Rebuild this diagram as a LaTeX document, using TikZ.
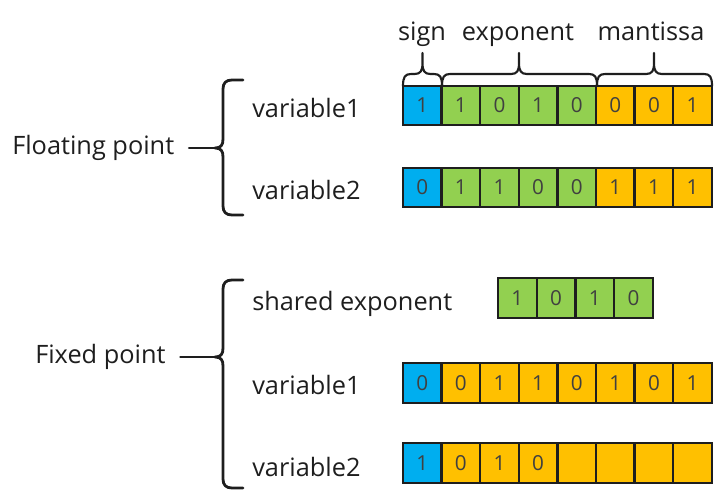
\documentclass[tikz,border=0pt]{standalone}
\usepackage{fontspec}
\setmainfont{Open Sans}
\usetikzlibrary{positioning}
\definecolor{signblue}{RGB}{0,174,239}
\definecolor{expgreen}{RGB}{146,208,80}
\definecolor{mantorange}{RGB}{255,192,0}
\definecolor{inkgray}{RGB}{30,30,30}

% curly brace above a field: left x, tip x, right x
\newcommand{\topbrace}[3]{%
  \draw[bracebar] (#1,86) .. controls (#1,77) and (#1+2,74) .. (#1+8,74) -- (#2-8,74)
    .. controls (#2-2,74) and (#2,71) .. (#2,63) -- (#2,53) -- (#2,63)
    .. controls (#2,71) and (#2+2,74) .. (#2+8,74) -- (#3-8,74)
    .. controls (#3-2,74) and (#3,77) .. (#3,86);}
% bracket on the left of a group: top y, tip y, bottom y
\newcommand{\sidebrace}[3]{%
  \draw[sidebar] (243,#1) -- (232,#1) .. controls (226,#1) and (223,#1+3) .. (223,#1+9)
    -- (223,#2-9) .. controls (223,#2-3) and (221,#2) .. (215,#2)
    .. controls (221,#2) and (223,#2+3) .. (223,#2+9) -- (223,#3-9)
    .. controls (223,#3-3) and (226,#3) .. (232,#3) -- (243,#3);}

\begin{document}
\begin{tikzpicture}[x=0.75pt,y=0.75pt,yscale=-1,xscale=1,
    cell/.style={draw=inkgray, line width=1.7pt, minimum width=28.95pt, minimum height=29.5pt,
      inner sep=0pt, text=black!75, font=\fontsize{15.5}{17}\selectfont},
    lbl/.style={anchor=west, inner sep=0pt, text=inkgray, font=\fontsize{19}{22}\selectfont},
    toplbl/.style={anchor=base, inner sep=0pt, text=inkgray, font=\fontsize{19}{22}\selectfont},
    bracebar/.style={draw=inkgray, line width=1.6pt, line join=round, line cap=round},
    sidebar/.style={bracebar, line width=2.1pt}]
        \useasboundingbox (0,0) rectangle (720,493);
        % Field names
        \node[toplbl] (sign) at (422,40) {sign};
        \node[toplbl] (expo) at (518,40) {exponent};
        \node[toplbl] (mant) at (651,40) {mantissa};
        \topbrace{403}{422.5}{442}
        \topbrace{442}{519}{597}
        \topbrace{597}{654}{712}
        % Floating point group
        \node[lbl] (flt) at (12,148) {Floating point};
        \node[lbl] (fltva) at (252,108) {variable1};
        \node[lbl] (fltvb) at (252,190) {variable2};
        \sidebrace{80}{148}{215}
        \coordinate (fltip) at (216,148);
        \draw[sidebar, shorten <=11pt] (flt) -- (fltip);
        \foreach \b/\c [count=\i from 0] in {1/signblue,1/expgreen,0/expgreen,1/expgreen,0/expgreen,0/mantorange,0/mantorange,1/mantorange}
            \node[cell, fill=\c] (fa\i) at ({403+38.6*(\i+0.5)},105.5) {\b};
        \foreach \b/\c [count=\i from 0] in {0/signblue,1/expgreen,1/expgreen,0/expgreen,0/expgreen,1/mantorange,1/mantorange,1/mantorange}
            \node[cell, fill=\c] (fb\i) at ({403+38.6*(\i+0.5)},187.5) {\b};
        % Fixed point group
        \node[lbl] (fix) at (35,357) {Fixed point};
        \node[lbl] (fixse) at (252,304) {shared exponent};
        \node[lbl] (fixva) at (252,385) {variable1};
        \node[lbl] (fixvb) at (252,467) {variable2};
        \sidebrace{280}{357}{488}
        \coordinate (fixtip) at (216,357);
        \draw[sidebar, shorten <=11pt] (fix) -- (fixtip);
        \foreach \b [count=\i from 0] in {1,0,1,0}
            \node[cell, fill=expgreen] (se\i) at ({498+38.75*(\i+0.5)},298) {\b};
        \foreach \b/\c [count=\i from 0] in {0/signblue,0/mantorange,1/mantorange,1/mantorange,0/mantorange,1/mantorange,0/mantorange,1/mantorange}
            \node[cell, fill=\c] (xa\i) at ({403+38.6*(\i+0.5)},383) {\b};
        \foreach \b/\c [count=\i from 0] in {1/signblue,0/mantorange,1/mantorange,0/mantorange,/mantorange,/mantorange,/mantorange,/mantorange}
            \node[cell, fill=\c] (xb\i) at ({403+38.6*(\i+0.5)},463) {\b};
\end{tikzpicture}
\end{document}
